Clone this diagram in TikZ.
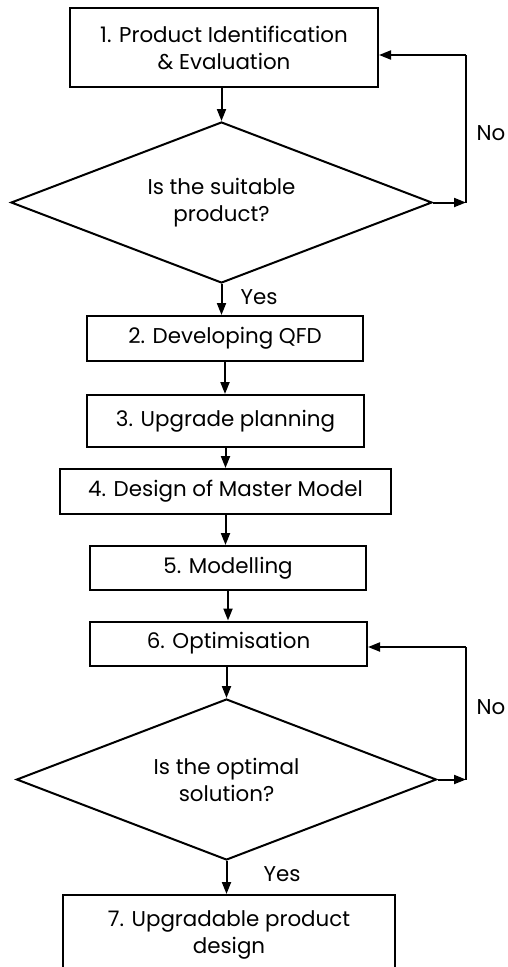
\documentclass[tikz,border=0pt]{standalone}
\usepackage{fontspec}
\setmainfont{Poppins}
\usetikzlibrary{shapes.geometric,arrows.meta}
\tikzset{
  txt/.style={font=\fontsize{21.4}{27}\selectfont},
  box/.style={draw=black, line width=2pt, rectangle, inner sep=0pt, align=center, txt},
  dec/.style={draw=black, line width=2pt, diamond, shape aspect=2.6, inner sep=0pt, align=center, txt},
  lbl/.style={inner sep=0pt, txt},
  arr/.style={line width=2pt, -{Triangle[length=12pt,width=9pt]}},
  ln/.style={line width=2pt},
}
\begin{document}
\begin{tikzpicture}[x=1pt,y=-1pt]
\useasboundingbox (0,0) rectangle (508,967);
\clip (0,0) rectangle (508,967);
\node[box, minimum width=308pt, minimum height=79pt] (b1) at (224,47.5) {1. Product Identification\\\& Evaluation};
\node[dec, minimum width=421pt, minimum height=161pt] (d1) at (221.5,202.5) {Is the suitable\\product?};
\node[box, minimum width=276pt, minimum height=45pt] (b2) at (225,338.5) {2. Developing QFD};
\node[box, minimum width=277pt, minimum height=52pt] (b3) at (225.5,421) {3. Upgrade planning};
\node[box, minimum width=331pt, minimum height=45pt] (b4) at (225.5,491.5) {4. Design of Master Model};
\node[box, minimum width=276pt, minimum height=44pt] (b5) at (228,568) {5. Modelling};
\node[box, minimum width=277pt, minimum height=44pt] (b6) at (228.5,643.5) {6. Optimisation};
\node[dec, minimum width=420pt, minimum height=161pt] (d2) at (226.5,779.5) {Is the optimal\\solution?};
\node[box, minimum width=332pt, minimum height=80pt] (b7) at (229,935) {7. Upgradable product\\design};

\node[lbl] (no1) at (491,133) {No};
\node[lbl] (yes1) at (259,297) {Yes};
\node[lbl] (no2) at (491,707) {No};
\node[lbl] (yes2) at (282,874) {Yes};

\coordinate (r1) at (466,202.5);
\coordinate (t1) at (466,55);
\coordinate (r2) at (466,779.5);
\coordinate (t2) at (466,647);

\draw[arr] (d1.north |- b1.south) -- (d1.north);
\draw[arr] (d1.east) -- (r1);
\draw[ln] (r1) -- (t1);
\draw[arr] (t1) -- (b1.east |- t1);
\draw[arr] (d1.south) -- (d1.south |- b2.north);
\draw[arr] (b2.south) -- (b2.south |- b3.north);
\draw[arr] (b3.south) -- (b3.south |- b4.north);
\draw[arr] (b4.south) -- (b4.south |- b5.north);
\draw[arr] (b5.south) -- (b5.south |- b6.north);
\draw[arr] (d2.north |- b6.south) -- (d2.north);
\draw[arr] (d2.east) -- (r2);
\draw[ln] (r2) -- (t2);
\draw[arr] (t2) -- (b6.east |- t2);
\draw[arr] (d2.south) -- (d2.south |- b7.north);
\end{tikzpicture}
\end{document}
